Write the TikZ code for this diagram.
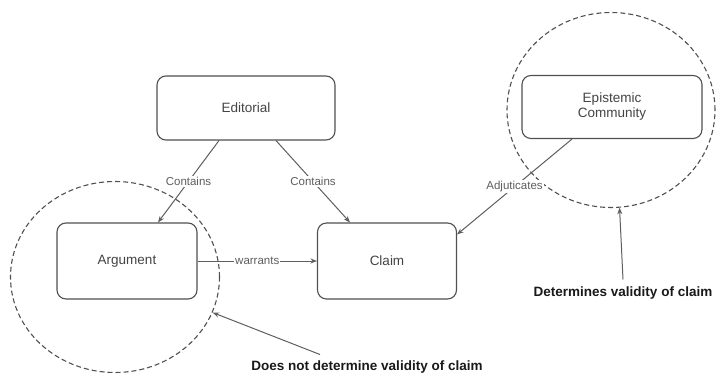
\documentclass[tikz,border=0pt]{standalone}
\usepackage{fontspec}
\setmainfont{Liberation Sans}
\usepackage{tikz}
\usetikzlibrary{arrows,arrows.meta}
\usetikzlibrary{shapes.geometric}

\definecolor{boxline}{HTML}{505050}
\definecolor{boxtext}{HTML}{444444}
\definecolor{wire}{HTML}{5E5E5E}

\begin{document}
\begin{tikzpicture}[>={Stealth[length=6.5pt,width=5pt]}, x=1pt, y=-1pt]
		\tikzstyle{entity} = [draw=boxline, line width=1.1pt, rounded corners=9pt, fill=white, text=boxtext, font=\fontsize{13.5}{15}\selectfont, align=center, inner sep=0pt]
		\tikzstyle{scopering} = [draw=boxline, dash pattern=on 5pt off 3pt, line width=1.1pt, ellipse, inner sep=0pt]
		\tikzstyle{lbl} = [fill=white, text=wire, font=\fontsize{11.5}{13}\selectfont, inner sep=1pt]
		\tikzstyle{note} = [text=black!90, font=\bfseries\fontsize{13.5}{15}\selectfont, inner sep=1pt]
		\tikzstyle{link} = [->, draw=wire, line width=1pt]

		\useasboundingbox (0,0) rectangle (716,375);

		% dashed scopes
		\node[scopering, minimum width=209pt, minimum height=191pt] (leftring) at (115,277) {};
		\node[scopering, minimum width=208pt, minimum height=195pt] (rightring) at (611,110) {};

		\begin{scope}[]
		\path

		node[entity, minimum width=178pt, minimum height=64pt] (edit) at (246,108) {Editorial}
		node[entity, minimum width=140pt, minimum height=76pt] (arg) at (127,261) {Argument}
		node[entity, minimum width=139pt, minimum height=76pt] (claim) at (387,261) {Claim}
		node[entity, minimum width=180pt, minimum height=63pt] (epi) at (612,107) {Epistemic\\Community}

		node[note] (dval) at (623,293) {Determines validity of claim}
		node[note] (dnot) at (367,367) {Does not determine validity of claim}

		([xshift=-27pt]edit.south) edge[link] node[lbl] {Contains} ([xshift=31pt]arg.north)
		([xshift=30pt]edit.south) edge[link] node[lbl] {Contains} ([xshift=-37pt]claim.north)
		([xshift=-40pt]epi.south) edge[link] node[lbl] {Adjuticates} ([yshift=-12pt]claim.north east)
		(arg) edge[link] node[lbl] {warrants} (claim)

		([yshift=6pt]dval.north) edge[link] (rightring.-85)
		([xshift=-47pt,yshift=5pt]dnot.north) edge[link] (leftring.-20)
		;
		\end{scope}

		\end{tikzpicture}
\end{document}
